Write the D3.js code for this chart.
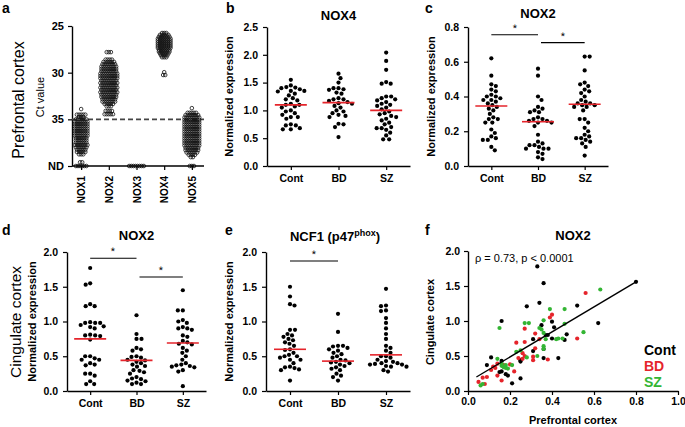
<!DOCTYPE html>
<html><head><meta charset="utf-8">
<script src="https://cdn.jsdelivr.net/npm/d3@7"></script>
<style>body{margin:0;background:#fff}svg{display:block}</style>
</head><body>
<svg id="chart" width="685" height="427"></svg>
<script>
// ---------------- DATA ----------------
const groups = ["Cont", "BD", "SZ"];

// Panel a: Ct value rows [Ct, number of samples]; 40 = ND
const aCats = ["NOX1", "NOX2", "NOX3", "NOX4", "NOX5"];
const aTicks = [25, 30, 35, 40];
const aTickLabels = ["25", "30", "35", "ND"];
const aCutoff = 35;
const nox1Rows = [[33.9,1],[34.5,5],[34.75,3],[35.0,6],[35.25,7],[35.5,7],[35.75,7],[36.0,7],[36.25,7],[36.5,7],[36.75,7],[37.0,6],[37.25,6],[37.5,6],[37.75,7],[38.0,6],[38.25,5],[38.5,5],[38.75,3],[39.6,2],[40,6]];
const nox2Rows = [[27.8,3],[28.6,4],[28.85,6],[29.1,7],[29.35,8],[29.6,8],[29.85,8],[30.1,9],[30.35,9],[30.6,9],[30.85,8],[31.1,9],[31.35,8],[31.6,9],[31.85,8],[32.1,9],[32.35,8],[32.6,8],[32.85,7],[33.1,7],[33.35,5],[33.6,3],[34.1,4],[34.45,5]];
const nox3Rows = [[40,8]];
const nox4Rows = [[25.75,3],[25.95,5],[26.15,6],[26.35,7],[26.55,7],[26.75,7],[26.95,7],[27.15,7],[27.35,7],[27.55,6],[27.75,6],[27.95,5],[28.15,4],[28.35,3],[29.95,1],[30.25,2]];
const nox5Rows = [[33.8,1],[34.3,5],[34.55,7],[34.8,8],[35.05,8],[35.3,8],[35.55,8],[35.8,8],[36.05,8],[36.3,8],[36.55,8],[36.8,8],[37.05,8],[37.3,8],[37.55,8],[37.8,8],[38.05,7],[38.3,7],[38.55,6],[38.8,4],[39.05,2],[40,3]];

// Panel b: NOX4, prefrontal cortex
const bCont = [1.55,1.45,1.42,1.41,1.40,1.38,1.35,1.35,1.34,1.30,1.27,1.22,1.20,1.18,1.12,1.10,1.10,1.07,1.05,1.00,0.98,0.95,0.92,0.88,0.88,0.85,0.75,0.73,0.73,0.68,0.66,0.66];
const bBD   = [1.66,1.58,1.50,1.40,1.40,1.38,1.37,1.32,1.30,1.22,1.20,1.20,1.17,1.15,1.13,1.12,1.08,1.05,1.00,0.98,0.95,0.92,0.90,0.88,0.76,0.75,0.70,0.52];
const bSZ   = [2.04,1.89,1.73,1.51,1.48,1.48,1.25,1.25,1.22,1.20,1.18,1.15,1.12,1.10,1.08,1.05,1.02,0.98,0.95,0.93,0.90,0.88,0.85,0.82,0.78,0.75,0.70,0.68,0.68,0.65,0.60,0.55,0.48,0.48];
const bMeans = [1.10, 1.14, 1.00];

// Panel c: NOX2, prefrontal cortex
const cCont = [0.62,0.52,0.47,0.46,0.44,0.43,0.41,0.40,0.40,0.39,0.38,0.38,0.37,0.36,0.35,0.34,0.33,0.32,0.30,0.28,0.27,0.27,0.25,0.25,0.21,0.19,0.17,0.16,0.15,0.15,0.11,0.09];
const cBD   = [0.56,0.52,0.40,0.38,0.34,0.33,0.32,0.31,0.31,0.28,0.27,0.27,0.26,0.26,0.25,0.25,0.23,0.18,0.14,0.13,0.12,0.12,0.11,0.10,0.10,0.10,0.08,0.07,0.05,0.04];
const cSZ   = [0.63,0.63,0.55,0.48,0.47,0.46,0.44,0.43,0.42,0.40,0.38,0.37,0.36,0.36,0.35,0.35,0.34,0.34,0.32,0.27,0.27,0.25,0.22,0.20,0.18,0.17,0.16,0.16,0.15,0.14,0.13,0.11,0.06];
const cMeans = [0.345, 0.255, 0.355];
const cSig = [[0, 1, 0.755], [1, 2, 0.71]];

// Panel d: NOX2, cingulate cortex
const dCont = [1.77,1.55,1.53,1.25,1.22,1.22,0.99,0.98,0.98,0.98,0.95,0.93,0.92,0.90,0.81,0.80,0.80,0.79,0.74,0.50,0.50,0.47,0.45,0.45,0.40,0.38,0.37,0.25,0.25,0.22,0.14,0.10,0.10];
const dBD   = [1.09,0.82,0.75,0.75,0.62,0.60,0.58,0.50,0.49,0.48,0.45,0.44,0.42,0.40,0.38,0.36,0.35,0.30,0.29,0.27,0.25,0.20,0.18,0.17,0.15,0.14,0.12,0.10,0.10];
const dSZ   = [1.45,1.16,1.16,1.02,1.00,0.98,0.92,0.90,0.90,0.88,0.80,0.78,0.72,0.70,0.68,0.67,0.62,0.58,0.55,0.50,0.45,0.40,0.38,0.37,0.36,0.35,0.34,0.30,0.28,0.07];
const dMeans = [0.75, 0.44, 0.69];
const dSig = [[0, 1, 1.91], [1, 2, 1.64]];

// Panel e: NCF1 (p47phox), cingulate cortex
const eCont = [1.50,1.36,1.25,1.23,0.88,0.88,0.82,0.80,0.78,0.75,0.73,0.70,0.68,0.65,0.60,0.59,0.55,0.52,0.50,0.50,0.48,0.45,0.45,0.40,0.35,0.34,0.33,0.31,0.30,0.15];
const eBD   = [1.11,0.85,0.65,0.65,0.64,0.62,0.60,0.58,0.55,0.53,0.50,0.48,0.45,0.44,0.42,0.41,0.40,0.38,0.36,0.34,0.32,0.30,0.25,0.22,0.20,0.15];
const eSZ   = [1.47,1.23,1.22,1.16,1.15,1.05,0.98,0.90,0.82,0.75,0.65,0.62,0.58,0.55,0.50,0.50,0.48,0.45,0.43,0.42,0.40,0.40,0.39,0.38,0.38,0.36,0.35,0.35,0.30,0.28];
const eMeans = [0.60, 0.43, 0.52];
const eSig = [[0, 1, 1.87]];

// Panel f: NOX2 prefrontal (x) vs cingulate (y)
const fCont = [[0.33,1.78],[0.36,1.54],[0.80,1.56],[0.34,1.26],[0.28,1.21],[0.52,1.22],[0.16,1.00],[0.40,0.99],[0.41,0.91],[0.62,0.97],[0.38,0.80],[0.37,0.80],[0.40,0.75],[0.47,0.81],[0.46,0.73],[0.31,0.74],[0.35,0.94],[0.36,0.47],[0.43,0.47],[0.11,0.48],[0.16,0.43],[0.09,0.37],[0.25,0.42],[0.18,0.24],[0.19,0.22],[0.25,0.18],[0.21,0.11],[0.16,0.28],[0.15,0.27],[0.36,0.60],[0.31,0.57],[0.25,0.44]];
const fBD = [[0.56,1.40],[0.52,0.75],[0.40,1.09],[0.27,0.89],[0.32,0.82],[0.34,0.74],[0.27,0.70],[0.23,0.69],[0.32,0.61],[0.27,0.50],[0.31,0.49],[0.26,0.46],[0.31,0.44],[0.38,0.45],[0.17,0.37],[0.14,0.39],[0.11,0.30],[0.12,0.35],[0.14,0.22],[0.07,0.19],[0.05,0.13],[0.09,0.20],[0.22,0.28],[0.16,0.15],[0.24,0.47],[0.39,1.05],[0.20,0.38],[0.08,0.10],[0.26,0.54],[0.13,0.33]];
const fSZ = [[0.63,1.45],[0.46,1.17],[0.39,1.17],[0.46,0.96],[0.55,0.84],[0.45,0.75],[0.27,0.97],[0.29,0.97],[0.15,0.90],[0.36,1.01],[0.35,0.88],[0.36,0.83],[0.42,0.74],[0.43,0.75],[0.36,0.64],[0.36,0.60],[0.14,0.46],[0.16,0.39],[0.18,0.37],[0.17,0.34],[0.18,0.33],[0.16,0.36],[0.21,0.37],[0.06,0.08],[0.07,0.10],[0.25,0.58],[0.28,0.48],[0.19,0.32],[0.33,0.50],[0.37,0.74],[0.23,0.56],[0.34,0.90]];
const fFitX = [0.04, 0.80];
const fFitY = [0.20, 1.56];
const fTicksX = [0, 0.2, 0.4, 0.6, 0.8, 1.0];
const fStat = "\u03c1 = 0.73, p < 0.0001";

// ---------------- DRAWING ----------------
const FONT = '"Liberation Sans", Arial, Helvetica, sans-serif';
const RED = "#e5242b", GREEN = "#33b533";
const svg = d3.select("#chart").style("font-family", FONT);

function styleAxis(g, fs) {
  g.selectAll(".domain").attr("stroke", "#000").attr("stroke-width", 1.4);
  g.selectAll(".tick line").attr("stroke", "#000").attr("stroke-width", 1.2);
  g.selectAll(".tick text").attr("fill", "#000").attr("font-size", fs).attr("font-weight", "bold").attr("font-family", FONT);
}

function txt(x, y, s, o = {}) {
  const t = svg.append("text").attr("x", x).attr("y", y).text(s)
    .attr("font-size", o.size || 11).attr("font-weight", o.weight || "bold")
    .attr("text-anchor", o.anchor || "middle").attr("fill", o.fill || "#000");
  if (o.rotate) t.attr("transform", `rotate(-90,${x},${y})`).attr("dominant-baseline", "central");
  return t;
}

function swarm(values, y, r) {
  const pts = values.map(v => ({ v, y: y(v) })).sort((a, b) => a.y - b.y);
  const placed = [];
  const d = 2 * r + 0.5;
  pts.forEach((p, idx) => {
    let best = null;
    const sgn = idx % 2 ? 1 : -1;
    for (let k = 0; k < 80 && best === null; k++) {
      const cands = k === 0 ? [0] : [sgn * k * 0.5, -sgn * k * 0.5];
      for (const c of cands) {
        if (placed.every(q => (q.x - c) ** 2 + (q.y - p.y) ** 2 >= d * d)) { best = c; break; }
      }
    }
    p.x = best; placed.push(p);
  });
  return pts;
}

function dotPanel(o) {
  const y = d3.scaleLinear().domain([0, o.max]).range([o.yb, o.yt]);
  const x = d3.scalePoint().domain(groups).range([o.x0, o.x1]).padding(0.5);
  const gy = svg.append("g").attr("transform", `translate(${o.x0},0)`)
    .call(d3.axisLeft(y).tickValues(o.ticks).tickFormat(d3.format(".1f")).tickSize(4).tickSizeOuter(0).tickPadding(5));
  styleAxis(gy, 10.5);
  const gx = svg.append("g").attr("transform", `translate(0,${o.yb})`)
    .call(d3.axisBottom(x).tickSize(4).tickSizeOuter(0).tickPadding(5));
  styleAxis(gx, 10.5);
  o.data.forEach((vals, i) => {
    const pts = swarm(vals, y, 2.1);
    svg.append("g").selectAll("circle").data(pts).join("circle")
      .attr("cx", d => x(groups[i]) + d.x).attr("cy", d => d.y).attr("r", 2.1).attr("fill", "#000");
  });
  svg.append("g").selectAll("line").data(o.means).join("line")
    .attr("x1", (d, i) => x(groups[i]) - 16).attr("x2", (d, i) => x(groups[i]) + 16)
    .attr("y1", d => y(d)).attr("y2", d => y(d)).attr("stroke", RED).attr("stroke-width", 1.6);
  (o.sig || []).forEach(([a, b, v], k) => {
    const xa = x(groups[a]) + (k ? 3 : 0), xb = x(groups[b]);
    svg.append("line").attr("x1", xa).attr("x2", xb).attr("y1", y(v)).attr("y2", y(v))
      .attr("stroke", "#000").attr("stroke-width", 1.1);
    txt(Math.round((xa + xb) / 2), Math.round(y(v) - 3), "*", { size: 11, weight: "normal", fill: "#000" })
      .attr("text-rendering", "geometricPrecision");
  });
  if (o.title) txt((o.x0 + o.x1) / 2, o.titleY, o.title, { size: 13 });
  txt(o.ylabX, (o.yt + o.yb) / 2, "Normalized expression", { size: 11, rotate: true });
}

// ----- Panel a -----
(function () {
  const y = d3.scaleLinear().domain([25, 40]).range([26, 166]);
  const x = d3.scalePoint().domain(aCats).range([72, 201]).padding(0.33);
  const rowsAll = [nox1Rows, nox2Rows, nox3Rows, nox4Rows, nox5Rows];
  const gy = svg.append("g").attr("transform", "translate(72,0)")
    .call(d3.axisLeft(y).tickValues(aTicks).tickFormat((d, i) => aTickLabels[i]).tickSize(4).tickSizeOuter(0).tickPadding(4));
  styleAxis(gy, 11);
  const gx = svg.append("g").attr("transform", "translate(0,166)")
    .call(d3.axisBottom(x).tickSize(4).tickSizeOuter(0));
  styleAxis(gx, 10);
  gx.select(".domain").remove();
  gx.selectAll(".tick text").attr("transform", "rotate(-90)").attr("text-anchor", "end")
    .attr("x", -10).attr("y", 0).attr("dy", "0.35em");
  svg.append("line").attr("x1", 72).attr("x2", 204).attr("y1", y(aCutoff)).attr("y2", y(aCutoff))
    .attr("stroke", "#444").attr("stroke-width", 1.6).attr("stroke-dasharray", "5,3");
  rowsAll.forEach((rows, i) => {
    const pts = [];
    rows.forEach(([ct, n]) => {
      for (let j = 0; j < n; j++) pts.push({ ct, off: (j - (n - 1) / 2) * 2.1 });
    });
    svg.append("g").selectAll("circle").data(pts).join("circle")
      .attr("cx", d => x(aCats[i]) + d.off).attr("cy", d => y(d.ct)).attr("r", 1.8)
      .attr("fill", "none").attr("stroke", "#111").attr("stroke-width", 0.8);
  });
  svg.append("line").attr("x1", 72).attr("x2", 204).attr("y1", 166).attr("y2", 166).attr("stroke", "#000").attr("stroke-width", 1.4);
  txt(18, 100, "Prefrontal cortex", { size: 16, weight: "normal", rotate: true });
  txt(40, 97, "Ct value", { size: 11, weight: "normal", rotate: true });
})();

dotPanel({ x0: 267, x1: 410, yt: 27, yb: 166, max: 2.5, ticks: [0, 0.5, 1, 1.5, 2, 2.5], data: [bCont, bBD, bSZ], means: bMeans, title: "NOX4", titleY: 20, ylabX: 229 });
dotPanel({ x0: 468, x1: 608, yt: 27, yb: 166, max: 0.8, ticks: [0, 0.2, 0.4, 0.6, 0.8], data: [cCont, cBD, cSZ], means: cMeans, sig: cSig, title: "NOX2", titleY: 18, ylabX: 431 });
dotPanel({ x0: 67, x1: 206, yt: 252, yb: 391, max: 2.0, ticks: [0, 0.5, 1, 1.5, 2], data: [dCont, dBD, dSZ], means: dMeans, sig: dSig, title: "NOX2", titleY: 240, ylabX: 32 });
dotPanel({ x0: 266, x1: 410, yt: 252, yb: 391, max: 2.0, ticks: [0, 0.5, 1, 1.5, 2], data: [eCont, eBD, eSZ], means: eMeans, sig: eSig, title: null, ylabX: 229 });
txt(15, 322, "Cingulate cortex", { size: 15.5, weight: "normal", rotate: true });

// title e with superscript
(function () {
  const t = svg.append("text").attr("x", 335).attr("y", 241).attr("text-anchor", "middle")
    .attr("font-size", 13).attr("font-weight", "bold");
  t.append("tspan").text("NCF1 (p47");
  t.append("tspan").text("phox").attr("font-size", 9).attr("dy", -5);
  t.append("tspan").text(")").attr("dy", 5);
})();

// ----- Panel f -----
(function () {
  const x = d3.scaleLinear().domain([0, 1]).range([468, 678]);
  const y = d3.scaleLinear().domain([0, 2]).range([391, 251]);
  const gy = svg.append("g").attr("transform", "translate(468,0)")
    .call(d3.axisLeft(y).tickValues([0, 0.5, 1, 1.5, 2]).tickFormat(d3.format(".1f")).tickSize(4).tickSizeOuter(0).tickPadding(4));
  styleAxis(gy, 10.5);
  const gx = svg.append("g").attr("transform", "translate(0,391)")
    .call(d3.axisBottom(x).tickValues(fTicksX).tickFormat(d3.format(".1f")).tickSize(4).tickSizeOuter(0).tickPadding(3));
  styleAxis(gx, 10.5);
  const sets = [[fCont, "#000"], [fBD, RED], [fSZ, GREEN]];
  sets.forEach(([pts, col]) => {
    svg.append("g").selectAll("circle").data(pts).join("circle")
      .attr("cx", d => x(d[0])).attr("cy", d => y(d[1])).attr("r", 2.1).attr("fill", col);
  });
  svg.append("line").attr("x1", x(fFitX[0])).attr("y1", y(fFitY[0])).attr("x2", x(fFitX[1])).attr("y2", y(fFitY[1]))
    .attr("stroke", "#000").attr("stroke-width", 1.4);
  txt(475, 262, fStat, { size: 11, weight: "normal", anchor: "start" });
  txt(573, 240, "NOX2", { size: 13 });
  txt(573, 424, "Prefrontal cortex", { size: 11 });
  txt(430, 322, "Cingulate cortex", { size: 11, rotate: true });
  txt(644, 355, "Cont", { size: 14, anchor: "start" });
  txt(644, 371, "BD", { size: 14, anchor: "start", fill: RED });
  txt(644, 387, "SZ", { size: 14, anchor: "start", fill: GREEN });
})();

// panel letters
[["a", 2, 13], ["b", 226, 13], ["c", 425, 13], ["d", 2, 235], ["e", 225, 235], ["f", 425, 235]].forEach(([l, x, y]) =>
  txt(x, y, l, { size: 14, anchor: "start" }));
</script>
</body></html>
